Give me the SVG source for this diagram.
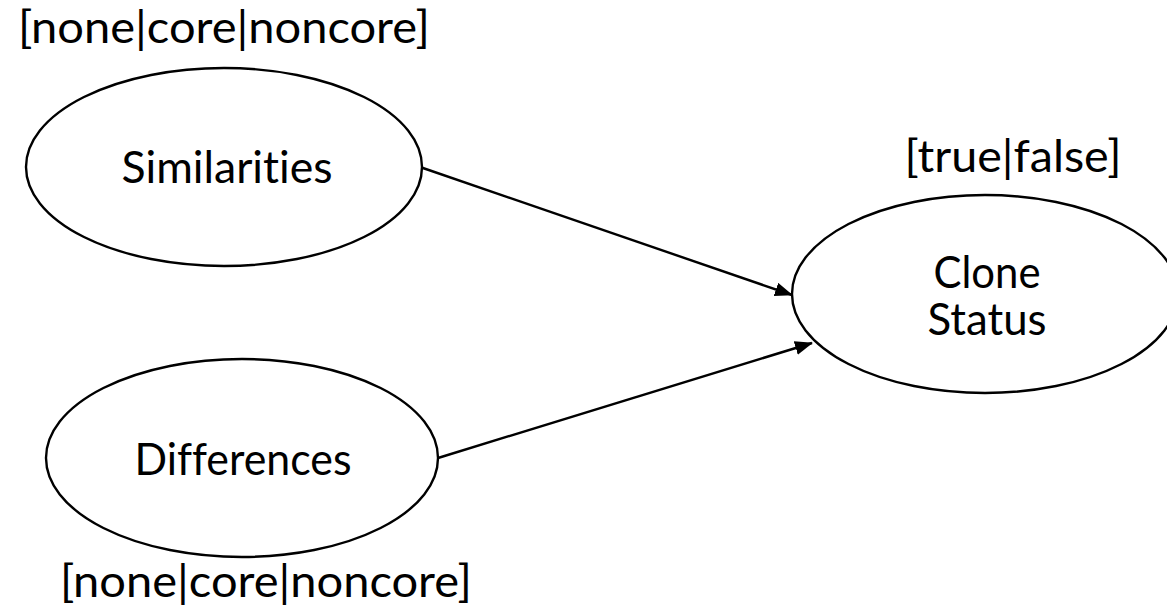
<svg xmlns="http://www.w3.org/2000/svg" width="1167" height="607" viewBox="0 0 1167 607">
<style>
.node ellipse{fill:#fff;stroke:#000;stroke-width:2.4}
text{font-family:Lato,"Open Sans","Liberation Sans",sans-serif;font-size:45px;fill:#000;text-anchor:middle;font-variant-ligatures:none;font-feature-settings:"liga" 0,"clig" 0}
.conn line{stroke:#000;stroke-width:2.4}
</style>
<defs>
<marker id="arr" markerUnits="userSpaceOnUse" markerWidth="20" markerHeight="16" refX="17" refY="7" orient="auto">
<path d="M0,0 L18,7 L0,14 Z" fill="#000"/>
</marker>
</defs>
<rect width="1167" height="607" fill="#fff"/>
<g class="conn" id="connectors">
<line x1="420" y1="167" x2="792" y2="295" marker-end="url(#arr)"/>
<line x1="438" y1="458" x2="812" y2="343" marker-end="url(#arr)"/>
</g>
<g class="node" id="similarities">
<ellipse cx="224" cy="167" rx="198" ry="99"/>
<text x="227" y="183" textLength="211" lengthAdjust="spacingAndGlyphs">Similarities</text>
<text x="224" y="43" textLength="412" lengthAdjust="spacingAndGlyphs">[none|core|noncore]</text>
</g>
<g class="node" id="differences">
<ellipse cx="242" cy="458" rx="196" ry="99"/>
<text x="243" y="475" textLength="217" lengthAdjust="spacingAndGlyphs">Differences</text>
<text x="266" y="597" textLength="412" lengthAdjust="spacingAndGlyphs">[none|core|noncore]</text>
</g>
<g class="node" id="clone-status">
<ellipse cx="985" cy="294" rx="193" ry="99"/>
<text x="987" y="288" textLength="107" lengthAdjust="spacingAndGlyphs">Clone</text>
<text x="987" y="335" textLength="119" lengthAdjust="spacingAndGlyphs">Status</text>
<text x="1013" y="172" textLength="217" lengthAdjust="spacingAndGlyphs">[true|false]</text>
</g>
</svg>
